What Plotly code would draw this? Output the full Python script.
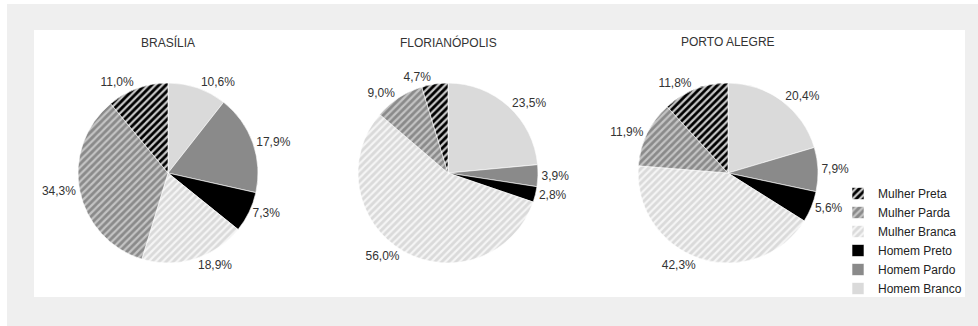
import plotly.graph_objects as go

cities = ["BRASÍLIA", "FLORIANÓPOLIS", "PORTO ALEGRE"]
categories = ["Homem Branco", "Homem Pardo", "Homem Preto",
              "Mulher Branca", "Mulher Parda", "Mulher Preta"]
brasilia = [10.6, 17.9, 7.3, 18.9, 34.3, 11.0]
florianopolis = [23.5, 3.9, 2.8, 56.0, 9.0, 4.7]
porto_alegre = [20.4, 7.9, 5.6, 42.3, 11.9, 11.8]
series = [brasilia, florianopolis, porto_alegre]

slice_colors = ["#dadada", "#8a8a8a", "#000000", "#dadada", "#8a8a8a", "#000000"]
hatch_shapes = ["", "", "", "/", "/", "/"]
hatch_colors = ["#dadada", "#8a8a8a", "#000000", "#f5f5f5", "#c4c4c4", "#c8c8c8"]

W, H = 978, 326
centers_px = [(168, 173), (448, 173), (728, 173)]
R = 90
FONT = "Liberation Sans, Arial, sans-serif"

fig = go.Figure()
for i, (city, vals) in enumerate(zip(cities, series)):
    cx, cy = centers_px[i]
    fig.add_trace(go.Pie(
        labels=categories,
        values=vals,
        sort=False,
        direction="clockwise",
        rotation=0,
        textposition="outside",
        texttemplate="%{value:.1f}%",
        outsidetextfont=dict(family=FONT, size=12, color="#333333"),
        marker=dict(
            colors=slice_colors,
            line=dict(color="#ffffff", width=0.6),
            pattern=dict(shape=hatch_shapes, fgcolor=hatch_colors,
                         bgcolor=slice_colors, size=5, solidity=0.45,
                         fillmode="replace"),
        ),
        domain=dict(x=[(cx - R) / W, (cx + R) / W],
                    y=[1 - (cy + R) / H, 1 - (cy - R) / H]),
        showlegend=(i == 0),
        hoverinfo="label+value",
    ))
    fig.add_annotation(x=cx / W, y=1 - 42 / H, xref="paper", yref="paper",
                       xanchor="center", yanchor="middle",
                       text=city, showarrow=False,
                       font=dict(family=FONT, size=12, color="#333333"))

fig.update_layout(
    width=W, height=H,
    margin=dict(l=0, r=0, t=0, b=0),
    paper_bgcolor="#ffffff",
    plot_bgcolor="#ffffff",
    separators=",.",
    font=dict(family=FONT, size=12, color="#333333"),
    legend=dict(x=838 / W, xanchor="left", y=1 - 303 / H, yanchor="bottom",
                traceorder="reversed", bgcolor="rgba(0,0,0,0)",
                font=dict(family=FONT, size=12, color="#222222")),
    shapes=[
        dict(type="rect", xref="paper", yref="paper", layer="below",
             x0=7 / W, x1=1, y0=0, y1=1 - 4 / H,
             fillcolor="#efefef", line=dict(width=0)),
        dict(type="rect", xref="paper", yref="paper", layer="below",
             x0=34 / W, x1=965 / W, y0=1 - 297 / H, y1=1 - 30 / H,
             fillcolor="#ffffff", line=dict(width=0)),
    ],
)

fig.write_html("out.html")
